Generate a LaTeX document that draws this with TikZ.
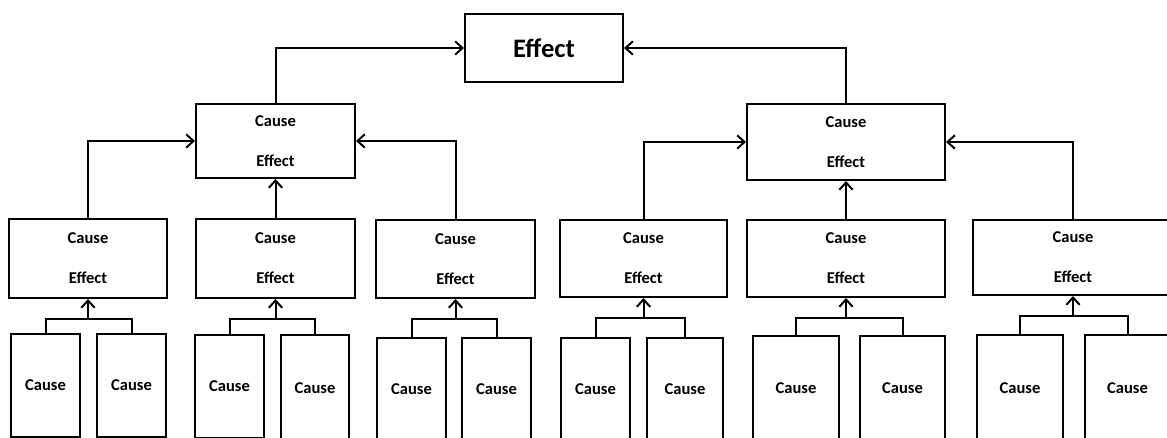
\documentclass[tikz,border=0pt]{standalone}
\usepackage{fontspec}
\setmainfont{Carlito}
\usetikzlibrary{arrows.meta}
\begin{document}
\begin{tikzpicture}[x=0.75pt,y=-0.75pt,
  box/.style={draw,line width=1.5pt,inner sep=0pt,font=\fontsize{12.4}{15}\selectfont\bfseries,align=center},
  bigbox/.style={box,font=\fontsize{20}{24}\selectfont\bfseries},
  conn/.style={line width=1.5pt},
  arr/.style={conn,-{Straight Barb[length=5.5pt,width=10pt,line width=1.5pt]}}]
\useasboundingbox[fill=white] (0,0) rectangle (1167,438);
% top
\node[bigbox,minimum width=158*0.75pt,minimum height=68*0.75pt] (E0) at (544,48) {Effect};
% mid
\node[box,minimum width=159*0.75pt,minimum height=74*0.75pt] (M1) at (275.5,141) {Cause\\[15pt]Effect};
\node[box,minimum width=198*0.75pt,minimum height=76*0.75pt] (M2) at (846,142) {Cause\\[15pt]Effect};
% row 3
\node[box,minimum width=158*0.75pt,minimum height=79*0.75pt] (R1) at (88,258.5) {Cause\\[15pt]Effect};
\node[box,minimum width=159*0.75pt,minimum height=79*0.75pt] (R2) at (275.5,258.5) {Cause\\[15pt]Effect};
\node[box,minimum width=159*0.75pt,minimum height=78*0.75pt] (R3) at (455.5,259) {Cause\\[15pt]Effect};
\node[box,minimum width=167*0.75pt,minimum height=77*0.75pt] (R4) at (643.5,258.5) {Cause\\[15pt]Effect};
\node[box,minimum width=198*0.75pt,minimum height=77*0.75pt] (R5) at (846,258.5) {Cause\\[15pt]Effect};
\node[box,minimum width=200*0.75pt,minimum height=75*0.75pt] (R6) at (1073,257.5) {Cause\\[15pt]Effect};
% bottom
\node[box,minimum width=69*0.75pt,minimum height=103*0.75pt] (B1) at (45.5,385.5) {Cause};
\node[box,minimum width=69*0.75pt,minimum height=103*0.75pt] (B2) at (131.5,385.5) {Cause};
\node[box,minimum width=69*0.75pt,minimum height=103*0.75pt] (B3) at (229.5,386) {Cause};
\node[box,minimum width=68*0.75pt,minimum height=106*0.75pt] (B4) at (315,388) {Cause};
\node[box,minimum width=69*0.75pt,minimum height=103*0.75pt] (B5) at (411.5,389.5) {Cause};
\node[box,minimum width=69*0.75pt,minimum height=103*0.75pt] (B6) at (496.5,389.5) {Cause};
\node[box,minimum width=69*0.75pt,minimum height=103*0.75pt] (B7) at (595.5,389.5) {Cause};
\node[box,minimum width=76*0.75pt,minimum height=103*0.75pt] (B8) at (685,389.5) {Cause};
\node[box,minimum width=86*0.75pt,minimum height=105*0.75pt] (B9) at (796,388.5) {Cause};
\node[box,minimum width=85*0.75pt,minimum height=105*0.75pt] (B10) at (902.5,388.5) {Cause};
\node[box,minimum width=86*0.75pt,minimum height=106*0.75pt] (B11) at (1020,388) {Cause};
\node[box,minimum width=85*0.75pt,minimum height=106*0.75pt] (B12) at (1127.5,388) {Cause};
% junctions
\foreach \r in {1,...,6}{\path (R\r.south) ++(0,20) coordinate (J\r);}
% brackets
\draw[conn] (B1.north) |- (J1) -| (B2.north);
\draw[conn] (B3.north) |- (J2) -| (B4.north);
\draw[conn] (B5.north) |- (J3) -| (B6.north);
\draw[conn] (B7.north) |- (J4) -| (B8.north);
\draw[conn] (B9.north) |- (J5) -| (B10.north);
\draw[conn] (B11.north) |- (J6) -| (B12.north);
\foreach \r in {1,...,6}{\draw[arr] (J\r) -- (R\r.south);}
% row3 to mid
\draw[arr] (R1.north) |- (M1.west);
\draw[arr] (R2.north) -- (M1.south);
\draw[arr] (R3.north) |- (M1.east);
\draw[arr] (R4.north) |- (M2.west);
\draw[arr] (R5.north) -- (M2.south);
\draw[arr] (R6.north) |- (M2.east);
% mid to top
\draw[arr] (M1.north) |- (E0.west);
\draw[arr] (M2.north) |- (E0.east);
\end{tikzpicture}
\end{document}
